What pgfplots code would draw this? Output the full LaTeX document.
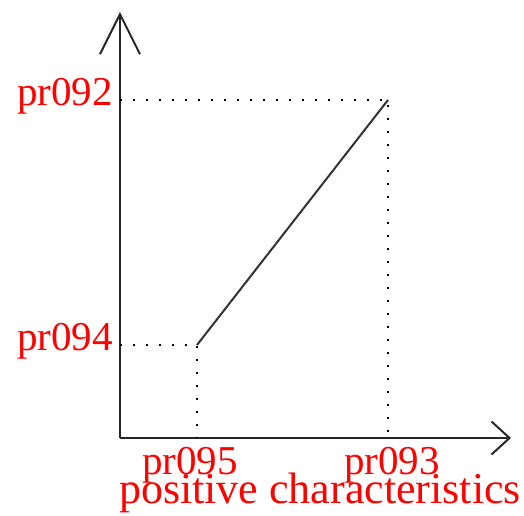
\documentclass[border=0pt]{standalone}
\usepackage{pgfplots}
\pgfplotsset{compat=1.18}
\usepackage{fontspec}
\setmainfont{Liberation Serif}
\usetikzlibrary{arrows.meta}
\begin{document}
\begin{tikzpicture}
\begin{axis}[
  scale only axis,
  width=195.5pt, height=213pt,
  xmin=120, xmax=511, ymin=77, ymax=503,
  axis x line=bottom, axis y line=left,
  axis line style={black!85, line width=1pt},
  x axis line style={-{Straight Barb[length=9pt,width=16.5pt]}},
  y axis line style={-{Straight Barb[length=20pt,width=20pt]}},
  xtick={197,388},
  xticklabels={\hspace*{-7pt}pr095, pr093\hspace*{-4pt}},
  ytick={170,415}, yticklabels={pr094,pr092},
  major tick length=0pt,
  tick label style={red, font=\fontsize{20.5}{24}\selectfont},
  xticklabel style={anchor=base, yshift=-18pt},
  yticklabel style={anchor=base east, yshift=-2.5pt},
  xlabel={positive characteristics},
  xlabel style={red, font=\fontsize{22}{26}\selectfont,
    at={(axis description cs:0.5115,-0.1545)}, anchor=base},
  clip=false,
]
  % guide lines from the end points to the axes
  \addplot[black, line width=1pt, dash pattern=on 0.8pt off 5.7pt]
    coordinates {(120,415) (388,415) (388,77)};
  \addplot[black, line width=1pt, dash pattern=on 0.8pt off 5.7pt]
    coordinates {(120,170) (197,170) (197,77)};
  % the relation itself
  \addplot[black!80, line width=1pt] coordinates {(197,170) (388,415)};
  \coordinate (bl) at (axis cs:0,0);
  \coordinate (tr) at (axis cs:524,515);
\end{axis}
\pgfresetboundingbox
\path (bl) rectangle (tr);
\end{tikzpicture}
\end{document}
